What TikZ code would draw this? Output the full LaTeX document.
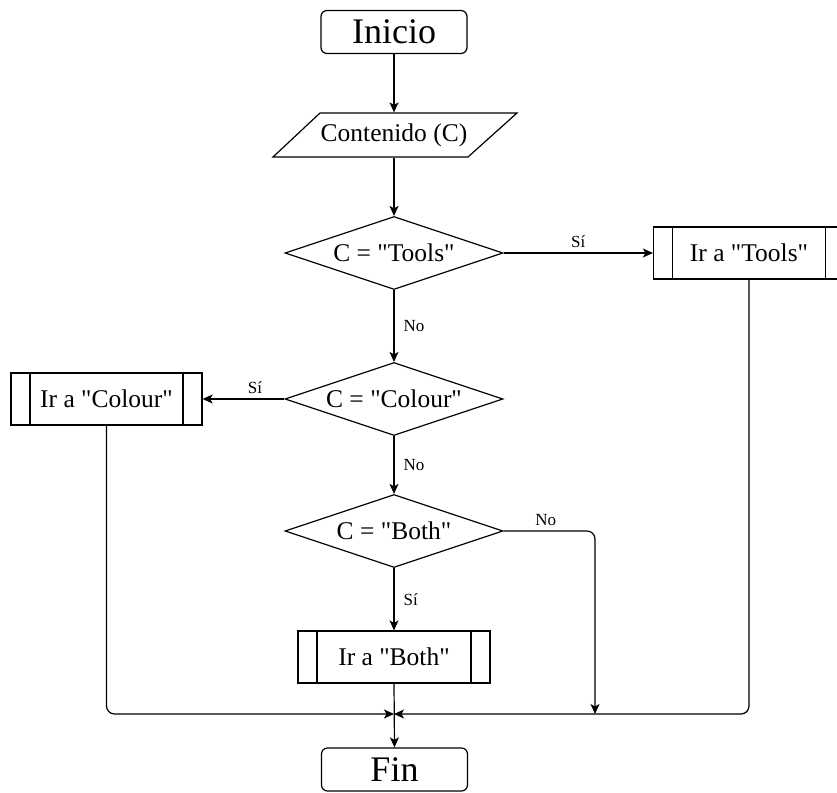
\documentclass[tikz,border=0pt]{standalone}
\usepackage{fontspec}
\newfontfamily\lsf{Liberation Serif}
\usetikzlibrary{shapes.geometric,arrows.meta,calc}
\begin{document}
\begin{tikzpicture}[x=1pt,y=-1pt,
  line width=1.2pt,
  every node/.style={font=\lsf\fontsize{25.5}{30}\selectfont},
  term/.style={draw, rounded corners=6pt, minimum width=146pt, minimum height=43pt, inner sep=0pt, font=\lsf\fontsize{36}{40}\selectfont},
  iobox/.style={draw=none, minimum width=150pt, minimum height=44pt, inner sep=0pt},
  decis/.style={draw, shape=diamond, aspect=3, minimum width=218pt, minimum height=73pt, inner sep=0pt},
  subr/.style={draw, rectangle, minimum width=191pt, minimum height=52pt, inner sep=0pt,
    path picture={
      \draw ([xshift=19pt]path picture bounding box.north west) -- ([xshift=19pt]path picture bounding box.south west);
      \draw ([xshift=-19pt]path picture bounding box.north east) -- ([xshift=-19pt]path picture bounding box.south east);
    }},
  arr/.style={-{Stealth[length=10pt,width=9pt,inset=2.5pt]}},
  lbl/.style={font=\lsf\fontsize{17}{20}\selectfont, inner sep=0pt}
]
\clip (0,0) rectangle (837,792);

\node[term] (ini) at (394,32) {Inicio};
\node[iobox] (cont) at (394,135) {Contenido (C)};
\draw (320,113) -- (517,113) -- (468,157) -- (273,157) -- cycle;

\node[decis] (d1) at (394,253) {\makebox[0pt]{C = "Tools"}};
\node[decis] (d2) at (394,399) {\makebox[0pt]{C = "Colour"}};
\node[decis] (d3) at (394,531) {\makebox[0pt]{C = "Both"}};

\node[subr] (tools) at (749,253) {Ir a "Tools"};
\node[subr] (colour) at (106.5,399) {Ir a "Colour"};
\node[subr, minimum width=192pt] (both) at (394,657) {Ir a "Both"};

\node[term] (fin) at (394.5,769.5) {Fin};

\coordinate (m) at (394,714);
\coordinate (mr) at (595,714);

\draw[arr] (ini.south) -- (cont.north);
\draw[arr] (cont.south) -- (d1.north);
\draw[arr] (d1.east) -- (tools.west) node[lbl, midway, above=5pt] {Sí};
\draw[arr] (d1.south) -- (d2.north) node[lbl, midway, right=9pt] {No};
\draw[arr] (d2.west) -- (colour.east) node[lbl, pos=0.36, above=5pt] {Sí};
\draw[arr] (d2.south) -- (d3.north) node[lbl, midway, right=9pt] {No};
\draw[arr] (d3.south) -- (both.north) node[lbl, midway, right=9pt] {Sí};
\draw[arr, rounded corners=8pt] (d3.east) -| (mr) node[lbl, pos=0.23, above=5pt] {No};
\draw[arr, rounded corners=8pt] (colour.south) |- (m);
\draw[arr, rounded corners=8pt] (tools.south) |- (m);
\draw[arr] (both.south) -- (fin.north);
\end{tikzpicture}
\end{document}
